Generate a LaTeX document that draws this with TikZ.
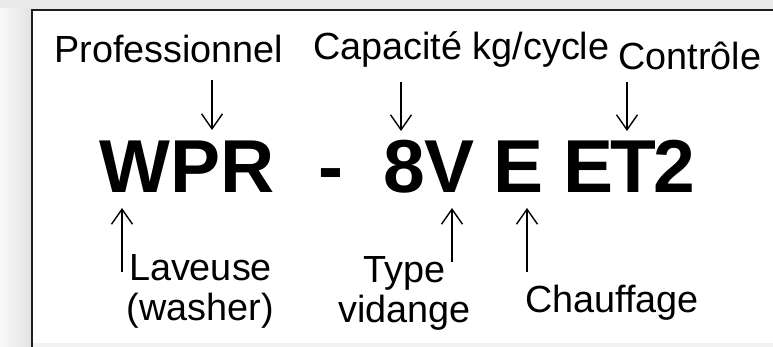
\documentclass[tikz,border=0pt]{standalone}
\usepackage{fontspec}
\setmainfont{Liberation Sans}
\usetikzlibrary{arrows.meta,calc}
\definecolor{bggray}{HTML}{E9E9E9}
\definecolor{shadegray}{HTML}{E2E2E2}
\definecolor{framecol}{HTML}{1E1E1E}
\tikzset{
  lbl/.style={inner sep=0pt, font=\fontsize{37.8}{40}\selectfont},
  big/.style={inner sep=0pt, anchor=base, font=\fontsize{75}{80}\selectfont\bfseries},
  arr/.style={line width=1.4pt, -{Straight Barb[length=15pt,width=21pt,line width=1.4pt]}},
  framestyle/.style={line width=1.6pt, draw=framecol}
}
\begin{document}
\begin{tikzpicture}[x=1pt,y=-1pt]
\useasboundingbox (0,0) rectangle (773,347);
% background and frame
\fill[bggray] (0,0) rectangle (773,347);
\shade[left color=white!70!bggray, right color=shadegray] (0,9) rectangle (32,347);
\fill[white] (32,9) rectangle (773,343);
\fill[bggray!60!white] (32,343) rectangle (773,347);
\draw[framestyle] (32,347) -- (32,9.8) -- (773,9.8);

% code pieces
\node[big] (wpr) at (187,193) {WPR};
\node[big] (dash) at (331,193) {-};
\node[big] (cap8v) at (429,193) {8V};
\node[big] (e1) at (519,193) {E};
\node[big] (et2) at (629,193) {E\kern-3pt T\kern-3pt 2};

% labels
\node[lbl, anchor=base west] (prof) at (54,63) {Professionnel};
\node[lbl, anchor=base west] (capa) at (313,60) {Capacité kg/cycle};
\node[lbl, anchor=base west] (ctrl) at (618,70) {Contrôle};
\node[lbl, anchor=base, align=center] (lav) at (200.5,320) {Laveuse\\(washer)};
\node[lbl, anchor=base, align=center] (type) at (404.5,322) {Type\\vidange};
\node[lbl, anchor=base west] (chauf) at (525,312) {Chauffage};

% arrow tips
\coordinate (tP) at (212,130);
\coordinate (tC) at (401,131);
\coordinate (tT) at (627,131);
\coordinate (tL) at (122,208);
\coordinate (tV) at (452,208);
\coordinate (tE) at (527,208);

% arrows
\draw[arr] ($(prof.base -| tP)+(0,17)$) -- (tP);
\draw[arr] ($(capa.base -| tC)+(0,22)$) -- (tC);
\draw[arr] ($(ctrl.base -| tT)+(0,12)$) -- (tT);
\draw[arr] ($(lav.base -| tL)+(0,-48)$) -- (tL);
\draw[arr] ($(type.base -| tV)+(0,-60)$) -- (tV);
\draw[arr] ($(chauf.base -| tE)+(0,-40)$) -- (tE);
\end{tikzpicture}
\end{document}
